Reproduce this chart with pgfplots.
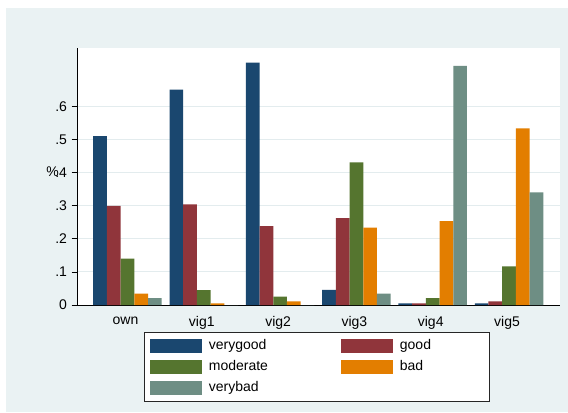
\documentclass[border=0pt]{standalone}
\usepackage{pgfplots}
\pgfplotsset{compat=1.18}
\usepackage{pgfplotstable}
\usepackage{fontspec}
\setmainfont{Liberation Sans}
\definecolor{sbg}{HTML}{EAF2F3}
\definecolor{cvg}{HTML}{1A476F}
\definecolor{cg}{HTML}{90353B}
\definecolor{cm}{HTML}{55752F}
\definecolor{cb}{HTML}{E37E00}
\definecolor{cvb}{HTML}{6E8E84}
\definecolor{cgrid}{HTML}{E3ECEE}
\pgfplotstableread{
cat vg g m b vb
0 0.510 0.299 0.140 0.034 0.021
1 0.650 0.304 0.045 0.005 0.000
2 0.732 0.238 0.025 0.011 0.000
3 0.046 0.262 0.431 0.234 0.034
4 0.005 0.005 0.021 0.253 0.722
5 0.005 0.011 0.117 0.533 0.340
}\datatable
\newcommand{\fs}{\fontsize{14bp}{16bp}\selectfont}
\begin{document}
\begin{tikzpicture}[x=1bp,y=1bp]
\path[use as bounding box] (0,0) rectangle (568,412);
\fill[sbg] (6,0) rectangle (568,404);
\begin{axis}[
  scale only axis,
  width=482.5bp, height=257bp,
  at={(77.5bp,107bp)}, anchor=south west,
  axis background/.style={fill=white},
  xmin=-0.655, xmax=5.668,
  ymin=0, ymax=0.776,
  axis lines*=left,
  axis line style={black, line width=0.8bp},
  ybar=0pt, bar width=13.7bp,
  xtick={0,1,2,3,4,5},
  xticklabels={own,vig1,vig2,vig3,vig4,vig5},
  x tick style={draw=none},
  ytick={0,0.1,0.2,0.3,0.4,0.5,0.6},
  yticklabels={0,.1,.2,.3,.4,.5,.6},
  y tick style={black, line width=0.6bp},
  tick align=outside,
  major tick length=6bp,
  ymajorgrids,
  major grid style={cgrid, line width=0.9bp},
  tick label style={font=\fs},
  /pgf/number format/assume math mode=true,
  yticklabel style={xshift=-1bp},
  xticklabel style={yshift=-2bp, xshift=-2bp},
  ylabel={\%},
  every axis y label/.style={at={(axis description cs:-0.0518,0.5175)}, anchor=center, font=\fs},
  legend columns=2,
  legend image code/.code={\fill[#1] (0bp,-7bp) rectangle (52bp,7bp);},
  legend style={
    at={(axis description cs:0.1378,-0.105)}, anchor=north west,
    draw=black!85, line width=0.8bp, fill=white,
    inner xsep=5.5bp, inner ysep=6.5bp,
    row sep=7bp,
    nodes={font=\fs, inner sep=0pt, text width=84bp, align=left, text height=10bp, text depth=3bp},
    /tikz/every odd column/.append style={column sep=7bp},
    /tikz/every even column/.append style={column sep=48bp},
  },
  legend cell align=left,
]
\addplot[fill=cvg, draw=none] table[x=cat, y=vg] {\datatable};
\addlegendentry{verygood}
\addplot[fill=cg, draw=none] table[x=cat, y=g] {\datatable};
\addlegendentry{good}
\addplot[fill=cm, draw=none] table[x=cat, y=m] {\datatable};
\addlegendentry{moderate}
\addplot[fill=cb, draw=none] table[x=cat, y=b] {\datatable};
\addlegendentry{bad}
\addplot[fill=cvb, draw=none] table[x=cat, y=vb] {\datatable};
\addlegendentry{verybad}
\end{axis}
\end{tikzpicture}
\end{document}
